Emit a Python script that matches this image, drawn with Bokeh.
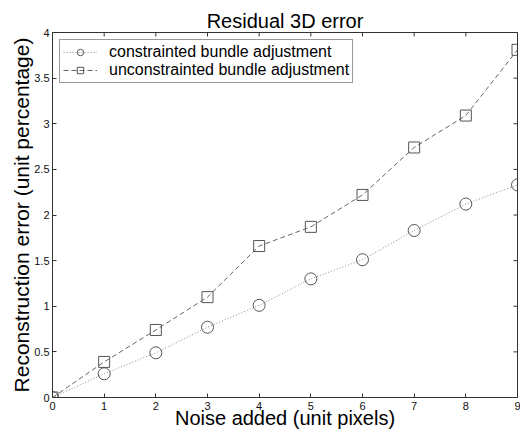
import math
from bokeh.plotting import figure
from bokeh.models import FixedTicker, Range1d, Legend, LegendItem
from bokeh.embed import file_html
from bokeh.resources import INLINE

noise = [0, 1, 2, 3, 4, 5, 6, 7, 8, 9]
constrained = [0.0, 0.26, 0.49, 0.77, 1.01, 1.30, 1.51, 1.83, 2.12, 2.33]
unconstrained = [0.0, 0.39, 0.74, 1.10, 1.66, 1.87, 2.22, 2.74, 3.09, 3.81]
x_ticks = [0, 1, 2, 3, 4, 5, 6, 7, 8, 9]
y_ticks = [0, 0.5, 1, 1.5, 2, 2.5, 3, 3.5, 4]
y_tick_labels = ["0", "0.5", "1", "1.5", "2", "2.5", "3", "3.5", "4"]
x_min, x_max = 0, 9
y_min, y_max = 0, 4

FONT = "Liberation Sans"
AX = "#333333"

p = figure(width=520, height=437, output_backend="svg", toolbar_location=None,
           x_range=Range1d(x_min, x_max), y_range=Range1d(y_min, y_max),
           min_border_left=52, min_border_right=3, min_border_top=32, min_border_bottom=40,
           x_axis_label="Noise added (unit pixels)",
           y_axis_label="Reconstruction error (unit percentage)")
p.background_fill_color = "white"
p.border_fill_color = "white"
p.outline_line_color = AX
p.xgrid.visible = False
p.ygrid.visible = False

p.title.text = "Residual 3D error"
p.title.align = "center"
p.title.text_font = FONT
p.title.text_font_size = "20px"
p.title.text_font_style = "normal"
p.title.text_color = "black"
p.title.standoff = 2

for ax in (p.xaxis[0], p.yaxis[0]):
    ax.axis_line_color = AX
    ax.major_tick_line_color = AX
    ax.major_tick_in = 4
    ax.major_tick_out = 0
    ax.minor_tick_line_color = None
    ax.major_label_text_font = FONT
    ax.major_label_text_font_size = "11px"
    ax.major_label_text_color = "#111111"
    ax.major_label_standoff = 3
    ax.axis_label_text_font = FONT
    ax.axis_label_text_font_style = "normal"
    ax.axis_label_text_color = "black"

p.xaxis.ticker = FixedTicker(ticks=x_ticks)
p.yaxis.ticker = FixedTicker(ticks=y_ticks)
p.yaxis.major_label_overrides = {t: l for t, l in zip(y_ticks, y_tick_labels)}
p.xaxis.major_label_standoff = 4
p.xaxis.axis_label_text_font_size = "20px"
p.yaxis.axis_label_text_font_size = "21px"
p.xaxis.axis_label_standoff = -6
p.yaxis.axis_label_standoff = -2

# inward ticks on the top and right edges of the box
p.scatter(x_ticks, [y_max] * len(x_ticks), marker="dash", angle=math.pi / 2, size=8,
          line_color=AX, line_width=1)
p.scatter([x_max] * len(y_ticks), y_ticks, marker="dash", size=8,
          line_color=AX, line_width=1)

l1 = p.line(noise, constrained, line_color="#8a8a8a", line_dash="1 2", line_width=1)
c1 = p.scatter(noise, constrained, marker="circle", size=12, fill_color=None,
               line_color="#555555", line_width=1)
l2 = p.line(noise, unconstrained, line_color="#666666", line_dash="5 3", line_width=1)
c2 = p.scatter(noise, unconstrained, marker="square", size=11, fill_color=None,
               line_color="#555555", line_width=1)

legend = Legend(items=[
    LegendItem(label="constrainted bundle adjustment", renderers=[l1, c1]),
    LegendItem(label="unconstrainted bundle adjustment", renderers=[l2, c2]),
], location="top_left")
legend.label_text_font = FONT
legend.label_text_font_size = "16px"
legend.label_text_color = "black"
legend.border_line_color = AX
legend.border_line_width = 1
legend.margin = 7
legend.padding = 3
legend.spacing = 0
legend.label_height = 16
legend.glyph_height = 16
legend.glyph_width = 34
legend.label_standoff = 12
legend.background_fill_alpha = 1
p.add_layout(legend)

open("out.html", "w").write(file_html(p, INLINE))
